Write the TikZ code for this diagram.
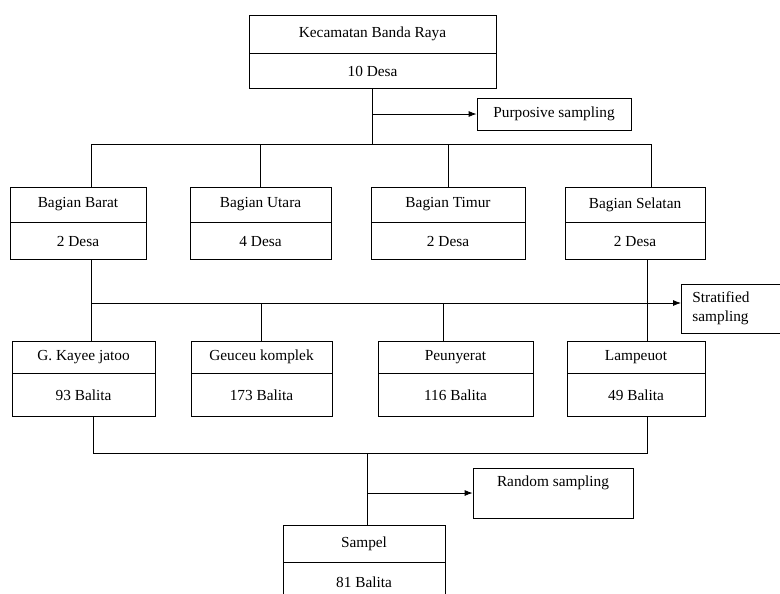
\documentclass[tikz,border=0pt]{standalone}
\usepackage{fontspec}
\setmainfont{Liberation Serif}
\usetikzlibrary{positioning,arrows.meta}
\tikzset{
  cell/.style={draw, line width=0.6pt, inner sep=0pt, align=center},
  boxw/.style={minimum width=#1*0.75pt},
  boxh/.style={minimum height=#1*0.75pt},
  tip/.style={-{Latex[length=6pt,width=4.5pt]}}
}
\begin{document}
\begin{tikzpicture}[x=0.75pt, y=-0.75pt, line width=0.6pt,
  font=\fontsize{11.5}{14}\selectfont]
  \useasboundingbox (0,0) rectangle (780,593);
  \clip (0,0) rectangle (780,593);
  % kecamatan
  \node [cell, boxw=247, boxh=38] (kec) at (372.5,34) {Kecamatan Banda Raya};
  \node [cell, boxw=247, boxh=35, below=0pt of kec] (kec-n) {10 Desa};
  \node [cell, boxw=154, boxh=32] (purp) at (554,114) {Purposive sampling};
  % bagian
  \node [cell, boxw=136, boxh=35] (barat) at (78,204.5) {Bagian Barat};
  \node [cell, boxw=136, boxh=37, below=0pt of barat] (barat-n) {2 Desa};
  \node [cell, boxw=141, boxh=35] (utara) at (260.5,204.5) {Bagian Utara};
  \node [cell, boxw=141, boxh=37, below=0pt of utara] (utara-n) {4 Desa};
  \node [cell, boxw=154, boxh=35] (timur) at (448,204.5) {Bagian Timur};
  \node [cell, boxw=154, boxh=37, below=0pt of timur] (timur-n) {2 Desa};
  \node [cell, boxw=140, boxh=35] (selatan) at (635,204.5) {Bagian Selatan};
  \node [cell, boxw=140, boxh=37, below=0pt of selatan] (selatan-n) {2 Desa};
  \node [cell, boxw=130, boxh=49, anchor=west, align=left, text width=81pt,
   inner xsep=8pt] (strat) at (681,308.5) {Stratified\\sampling};
  % desa
  \node [cell, boxw=143, boxh=32] (kayee) at (83.5,357) {G. Kayee jatoo};
  \node [cell, boxw=143, boxh=43, below=0pt of kayee] (kayee-n) {93 Balita};
  \node [cell, boxw=141, boxh=32] (geuceu) at (261.5,357) {Geuceu komplek};
  \node [cell, boxw=141, boxh=43, below=0pt of geuceu] (geuceu-n) {173 Balita};
  \node [cell, boxw=155, boxh=32] (peun) at (455.5,357) {Peunyerat};
  \node [cell, boxw=155, boxh=43, below=0pt of peun] (peun-n) {116 Balita};
  \node [cell, boxw=138, boxh=32] (lamp) at (636,357) {Lampeuot};
  \node [cell, boxw=138, boxh=43, below=0pt of lamp] (lamp-n) {49 Balita};
  % sampel
  \node [cell, boxw=160, boxh=50] (rand) at (553,493) {Random sampling\\ \strut};
  \node [cell, boxw=162, boxh=37] (sampel) at (364,543.5) {Sampel};
  \node [cell, boxw=162, boxh=38, below=0pt of sampel] (sampel-n) {81 Balita};

  \coordinate (busA-l) at (91,144);
  \coordinate (busA-r) at (651,144);
  \coordinate (busB-l) at (91,303);
  \coordinate (busB-p) at (443,303);
  \coordinate (busB-r) at (647,303);
  \coordinate (busC-l) at (93,453);
  \coordinate (busC-m) at (367,453);
  \coordinate (busC-r) at (647,453);

  \draw (kec-n.south) -- (kec-n.south |- busA-l);
  \draw [tip] (kec-n.south |- purp.west) -- (purp.west);
  \draw (busA-l |- barat.north) -- (busA-l) -- (busA-r) -- (busA-r |- selatan.north);
  \draw (utara.north) -- (utara.north |- busA-l);
  \draw (timur.north) -- (timur.north |- busA-l);

  \draw (barat-n.south -| busB-l) -- (kayee.north -| busB-l);
  \draw (selatan-n.south -| busB-r) -- (lamp.north -| busB-r);
  \draw [tip] (busB-l) -- (busB-l -| strat.west);
  \draw (geuceu.north) -- (geuceu.north |- busB-l);
  \draw (busB-p) -- (busB-p |- peun.north);

  \draw (kayee-n.south -| busC-l) -- (busC-l) -- (busC-r) -- (lamp-n.south -| busC-r);
  \draw (busC-m) -- (busC-m |- sampel.north);
  \draw [tip] (busC-m |- rand.west) -- (rand.west);
\end{tikzpicture}
\end{document}
